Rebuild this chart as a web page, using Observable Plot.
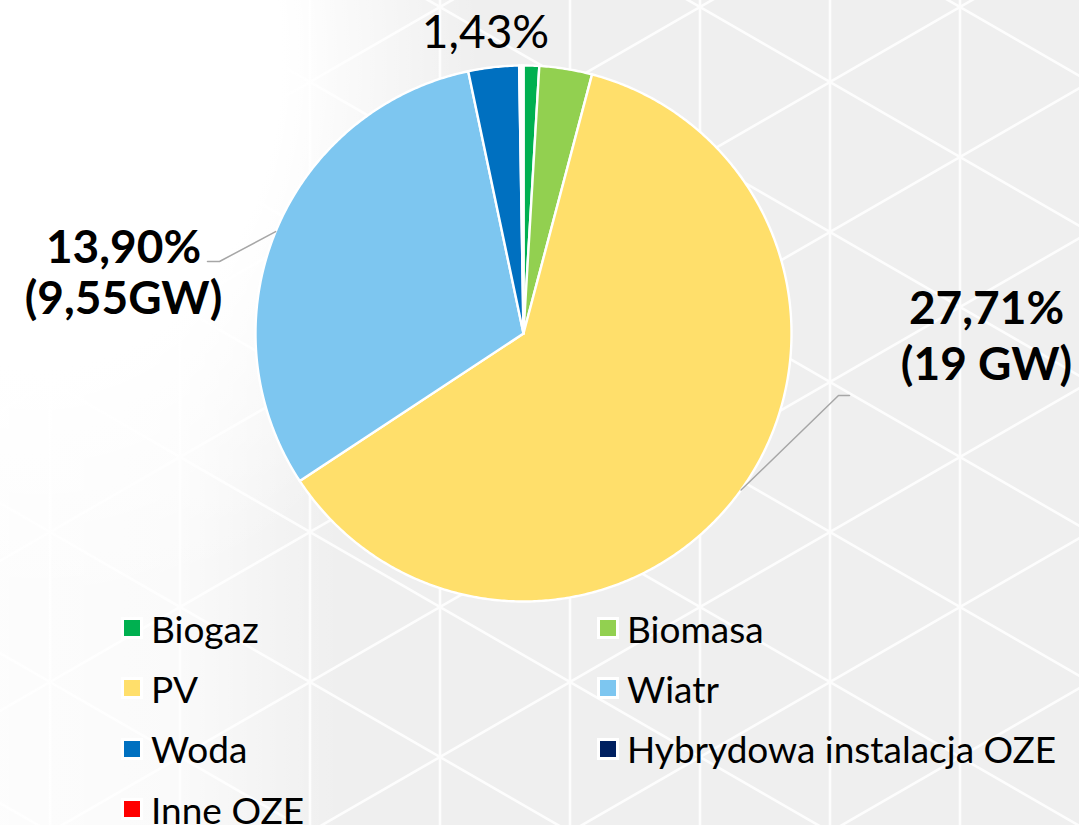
<!DOCTYPE html>
<html>
<head>
<meta charset="utf-8">
<script src="https://cdn.jsdelivr.net/npm/d3@7"></script>
<script src="https://cdn.jsdelivr.net/npm/@observablehq/plot@0.6"></script>
<style>
  html, body { margin: 0; padding: 0; }
  #wrap {
    position: relative; width: 1079px; height: 825px; overflow: hidden;
    background-color: #efefef;
    background-image:
      radial-gradient(ellipse 440px 560px at 40px 60px, #ffffff 0%, #ffffff 55%, rgba(255,255,255,0) 100%),
      linear-gradient(90deg, rgba(255,255,255,0.85) 0px, rgba(255,255,255,0.7) 180px, rgba(255,255,255,0) 340px),
      url("data:image/svg+xml;utf8,<svg xmlns='http://www.w3.org/2000/svg' width='260' height='150'><g stroke='%23ffffff' stroke-width='2.5' stroke-opacity='0.9' fill='none'><path d='M0 0V150M130 0V150M260 0V150M0 0L260 150M0 150L260 0'/></g></svg>");
    background-position: 0 0, 0 0, 50px 82px;
    background-repeat: no-repeat, no-repeat, repeat;
  }
  #chart { position: absolute; left: 0; top: 0; }
  #legend { position: absolute; left: 121px; top: 598px; width: 958px; }
  .lg-swatches { display: flex; flex-wrap: wrap; font-family: Lato, sans-serif; font-size: 37px; color: #000; margin: 0; }
  .lg-swatch { display: inline-flex; align-items: center; width: 476px; height: 60.3px; margin: 0 !important; white-space: nowrap; }
  .lg-swatch > svg { border: 3px solid #ffffff; margin-right: 8px !important; flex: none; }
</style>
</head>
<body>
<div id="wrap">
  <div id="chart"></div>
  <div id="legend"></div>
</div>
<script>
// ---- data ----
const categories = ["Biogaz", "Biomasa", "PV", "Wiatr", "Woda", "Hybrydowa instalacja OZE", "Inne OZE"];
const capacityGW = [0.29, 0.98, 19, 9.55, 0.94, 0.04, 0.04];
const colors = ["#00b050", "#92d050", "#ffdf6b", "#7dc6f0", "#0070c0", "#002060", "#ff0000"];
const labelCategories = ["Biomasa", "PV", "Wiatr"];
const labelTexts = ["1,43%", "27,71%\n(19 GW)", "13,90%\n(9,55GW)"];

// ---- layout (pixels relative to pie centre, up = positive) ----
const R = 268;
const labelLayout = {
  Biomasa: {dx: -38, dy: 286, weight: "normal", lh: 1.1, leader: null},
  PV: {dx: 463, dy: -46, weight: "bold", lh: 56 / 46, leader: [[315, -62], [326, -62]]},
  Wiatr: {dx: -400, dy: 20, weight: "bold", lh: 51 / 46, leader: [[-304, 72], [-316, 72]]}
};

const rows = categories.map((c, i) => ({cat: c, value: capacityGW[i]}));
const arcs = d3.pie().sort(null).value(d => d.value)(rows);

// slice outlines (unit circle, angle clockwise from 12 o'clock)
const slicePts = [];
for (const a of arcs) {
  if (!(a.endAngle > a.startAngle)) continue;
  const cat = a.data.cat;
  slicePts.push({cat, x: 0, y: 0});
  const n = Math.max(2, Math.ceil((a.endAngle - a.startAngle) / (Math.PI / 360)));
  for (let i = 0; i <= n; ++i) {
    const t = a.startAngle + (a.endAngle - a.startAngle) * i / n;
    slicePts.push({cat, x: Math.sin(t), y: Math.cos(t)});
  }
  slicePts.push({cat, x: 0, y: 0});
}

const labels = [];
const leaders = [];
labelCategories.forEach((c, i) => {
  const L = labelLayout[c];
  const a = arcs.find(d => d.data.cat === c);
  labels.push({cat: c, text: labelTexts[i], x: L.dx / R, y: L.dy / R, weight: L.weight, lh: L.lh});
  if (L.leader) {
    const m = (a.startAngle + a.endAngle) / 2;
    leaders.push({cat: c, x: Math.sin(m), y: Math.cos(m)});
    for (const [px, py] of L.leader) leaders.push({cat: c, x: px / R, y: py / R});
  }
});

const W = 1079, H = 620;
const cx = 523, cy = 333;
const chart = Plot.plot({
  width: W,
  height: H,
  marginLeft: cx - R,
  marginRight: W - (cx + R),
  marginTop: cy - R,
  marginBottom: H - (cy + R),
  style: {background: "transparent", fontFamily: "Lato, sans-serif", color: "#000", overflow: "visible"},
  x: {domain: [-1, 1], axis: null},
  y: {domain: [-1, 1], axis: null},
  color: {domain: categories, range: colors},
  marks: [
    Plot.line(slicePts, {x: "x", y: "y", z: "cat", fill: "cat", stroke: "#ffffff", strokeWidth: 2.4, strokeLinejoin: "round", curve: "linear"}),
    Plot.line(leaders, {x: "x", y: "y", z: "cat", stroke: "#a6a6a6", strokeWidth: 1.5, curve: "linear"}),
    ...labels.map(l => Plot.text([l], {
      x: "x", y: "y", text: "text", fontSize: 46, fontWeight: l.weight, lineHeight: l.lh,
      lineAnchor: "bottom", textAnchor: "middle", fill: "#000"
    }))
  ]
});
document.getElementById("chart").appendChild(chart);

let leg;
try {
  leg = chart.legend("color", {swatchSize: 16, className: "lg"});
} catch (e) {
  leg = Plot.legend({color: {domain: categories, range: colors}, swatchSize: 16, className: "lg"});
}
document.getElementById("legend").appendChild(leg);
</script>
</body>
</html>
